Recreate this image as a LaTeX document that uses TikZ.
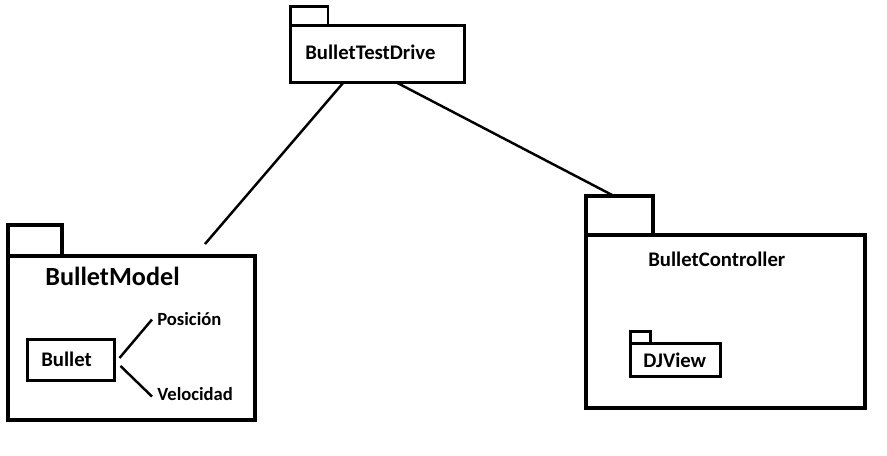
\documentclass[tikz,border=0pt]{standalone}
\usepackage{fontspec}
\setmainfont{Carlito}
\usetikzlibrary{positioning}

\begin{document}
\begin{tikzpicture}[x=0.02cm,y=-0.02cm,
  pkgbody/.style={draw,line width=2.2pt,anchor=north west,inner sep=0pt,outer sep=0pt},
  pkgtab/.style={draw,line width=2.2pt,anchor=south west,inner sep=0pt,outer sep=0pt},
  lbl/.style={anchor=base west,inner sep=0pt,font=\bfseries\fontsize{11.8}{14}\selectfont},
  attr/.style={anchor=base west,inner sep=0pt,font=\bfseries\fontsize{10.6}{12}\selectfont},
  link/.style={line width=1.4pt}]
  \useasboundingbox (0,0) rectangle (887,456);
  % top package
  \node[pkgbody,line width=1.7pt,minimum width=3.48cm,minimum height=1.14cm] (drive) at (290.5,25.5) {};
  \node[pkgtab,line width=1.7pt,minimum width=0.75cm,minimum height=0.38cm] (drivetab) at (drive.north west) {};
  \node[lbl] (drivelbl) at (305,60) {BulletTestDrive};
  % model package
  \node[pkgbody,minimum width=4.94cm,minimum height=3.28cm] (model) at (8,256) {};
  \node[pkgtab,minimum width=1.08cm,minimum height=0.62cm] (modeltab) at (model.north west) {};
  \node[lbl,font=\bfseries\fontsize{14.9}{17}\selectfont] (modellbl) at (45,286) {BulletModel};
  \node[draw,line width=1.5pt,anchor=north west,outer sep=0pt,minimum width=1.74cm,minimum height=0.82cm] (bullet) at (27.5,339.5) {};
  \node[lbl] (bulletlbl) at (41,366) {Bullet};
  \node[attr] (pos) at (157,326) {Posición};
  \node[attr] (vel) at (157,400) {Velocidad};
  \draw[link] ([xshift=0.1cm,yshift=0.04cm]bullet.east) -- ([xshift=-0.1cm]pos.west);
  \draw[link] ([xshift=0.12cm,yshift=-0.12cm]bullet.east) -- ([xshift=-0.1cm,yshift=-0.06cm]vel.west);
  % controller package
  \node[pkgbody,minimum width=5.58cm,minimum height=3.46cm] (ctrl) at (586,235) {};
  \node[pkgtab,minimum width=1.34cm,minimum height=0.78cm] (ctrltab) at (ctrl.north west) {};
  \node[lbl] (ctrllbl) at (648,267) {BulletController};
  \node[pkgbody,line width=1.5pt,minimum width=1.8cm,minimum height=0.66cm] (djview) at (630.5,343.5) {};
  \node[pkgtab,line width=1.5pt,minimum width=0.4cm,minimum height=0.24cm] (djviewtab) at (djview.north west) {};
  \node[lbl] (djviewlbl) at (643,367) {DJView};
  % connectors
  \coordinate (modeltop) at (205,244);
  \draw[link] ([xshift=1.06cm]drive.south west) -- (modeltop);
  \draw[link] ([xshift=2.12cm]drive.south west) -- ([xshift=-0.11cm]ctrltab.north);
\end{tikzpicture}
\end{document}
